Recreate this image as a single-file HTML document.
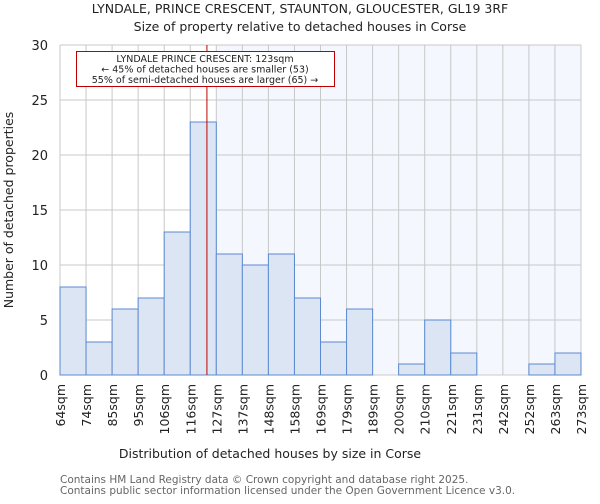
<!DOCTYPE html>
<html><head><meta charset="utf-8"><style>
body{margin:0;background:#fff;font-family:"DejaVu Sans","Liberation Sans",sans-serif}
</style></head><body>
<svg id="c" width="600" height="500" xmlns="http://www.w3.org/2000/svg" font-family="DejaVu Sans, Liberation Sans, sans-serif">
<text x="300" y="13" text-anchor="middle" font-size="12.5" fill="#222">LYNDALE, PRINCE CRESCENT, STAUNTON, GLOUCESTER, GL19 3RF</text>
<text x="300" y="31" text-anchor="middle" font-size="12.5" fill="#222">Size of property relative to detached houses in Corse</text>
<g id="plot"></g>
<text x="270" y="458" text-anchor="middle" font-size="12.5" fill="#222">Distribution of detached houses by size in Corse</text>
<text transform="translate(13,210) rotate(-90)" text-anchor="middle" font-size="12.5" fill="#222">Number of detached properties</text>
<text x="60" y="483" font-size="10.5" fill="#666">Contains HM Land Registry data © Crown copyright and database right 2025.</text>
<text x="60" y="494" font-size="10.5" fill="#666">Contains public sector information licensed under the Open Government Licence v3.0.</text>
</svg>
<script>
const categories=["64sqm","74sqm","85sqm","95sqm","106sqm","116sqm","127sqm","137sqm","148sqm","158sqm","169sqm","179sqm","189sqm","200sqm","210sqm","221sqm","231sqm","242sqm","252sqm","263sqm","273sqm"];
const values=[8,3,6,7,13,23,11,10,11,7,3,6,0,1,5,2,0,0,1,2];
const yTicks=[0,5,10,15,20,25,30];
const markerIndex=5.64;
const NS="http://www.w3.org/2000/svg";
const X0=60,X1=581,Y0=375,Y1=45,YMAX=30;
const bw=(X1-X0)/values.length;
const x=i=>X0+i*bw;
const y=v=>Y0-(v/YMAX)*(Y0-Y1);
const g=document.getElementById('plot');
function mk(t,a){const e=document.createElementNS(NS,t);for(const k in a)e.setAttribute(k,a[k]);g.appendChild(e);return e;}
const mx=x(markerIndex);
const hx=x(Math.ceil(markerIndex));
let hl=mk('rect',{x:hx,y:Y1,width:X1-hx,height:Y0-Y1,fill:'#f5f7fe'});


for(let i=0;i<=values.length;i++){let l=mk('line',{x1:x(i),x2:x(i),y1:Y1,y2:Y0,stroke:'#c8c8c8'});

}
yTicks.forEach(t=>{let l=mk('line',{x1:X0,x2:X1,y1:y(t),y2:y(t),stroke:'#c8c8c8'});


let tx=mk('text',{x:X0-12,y:y(t)+5,'text-anchor':'end','font-size':'13',fill:'#222'});tx.textContent=t;

});
values.forEach((v,i)=>{if(v<=0)return;let r=mk('rect',{x:x(i),y:y(v),width:bw,height:Y0-y(v),fill:'#dce5f4',stroke:'#5b8ad0','stroke-width':1});

});
categories.forEach((c,i)=>{let tx=mk('text',{transform:`translate(${x(i)+5},384) rotate(-90)`,'text-anchor':'end','font-size':'12.5',fill:'#222'});tx.textContent=c;

});
let ml=mk('line',{x1:mx,x2:mx,y1:Y1,y2:Y0,stroke:'#c00000','stroke-width':1});


let ab=mk('rect',{x:76.5,y:51.5,width:258,height:35,fill:'#fff',stroke:'#c00000','stroke-width':1});


["LYNDALE PRINCE CRESCENT: 123sqm","← 45% of detached houses are smaller (53)","55% of semi-detached houses are larger (65) →"].forEach((s,k)=>{let t=mk('text',{x:205,y:62+k*10.5,'text-anchor':'middle','font-size':'9.5',fill:'#222'});t.textContent=s;

});
</script>
</body></html>
